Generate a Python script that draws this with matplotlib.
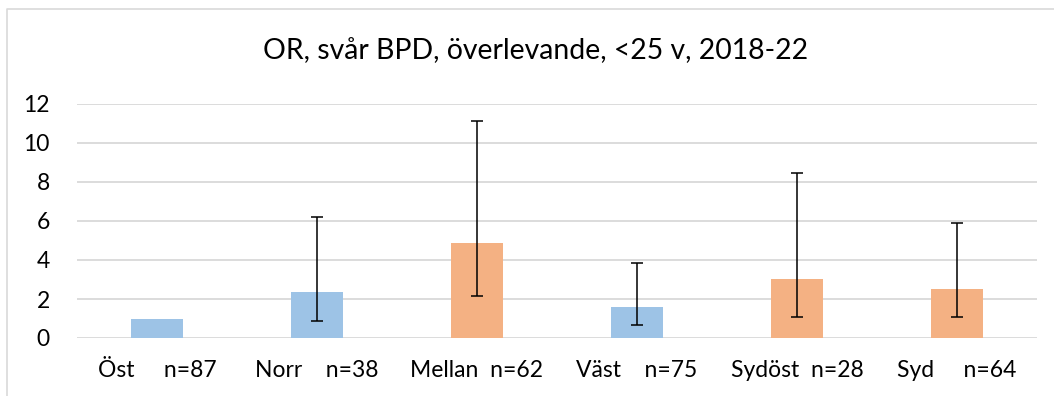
import matplotlib.pyplot as plt
from matplotlib.lines import Line2D

# Data
regions = ['Öst', 'Norr', 'Mellan', 'Väst', 'Sydöst', 'Syd']
n_values = [87, 38, 62, 75, 28, 64]
odds_ratio = [1.0, 2.36, 4.88, 1.59, 3.03, 2.52]
ci_low = [None, 0.89, 2.14, 0.67, 1.06, 1.06]
ci_high = [None, 6.22, 11.15, 3.84, 8.48, 5.89]
gaps = [5, 4, 2, 4, 2, 5]  # spaces between region name and n in label

blue = '#9dc3e6'
orange = '#f4b183'
bar_colors = [blue, blue, orange, blue, orange, orange]

plt.rcParams['font.family'] = ['Lato', 'DejaVu Sans']

fig = plt.figure(figsize=(10.54, 3.96), dpi=100)
ax = fig.add_axes([77 / 1054, 1 - 338 / 396, 960 / 1054, 234 / 396])

x = list(range(len(regions)))
ax.bar(x, odds_ratio, width=0.32, color=bar_colors, zorder=2)

# Error bars (Öst is the reference, no interval)
for i in x:
    if ci_low[i] is None:
        continue
    ax.errorbar(i, odds_ratio[i],
                yerr=[[odds_ratio[i] - ci_low[i]], [ci_high[i] - odds_ratio[i]]],
                fmt='none', ecolor='black', elinewidth=1.1, capsize=4.5,
                capthick=1.1, zorder=3)

ax.set_xlim(-0.5, 5.5)
ax.set_ylim(0, 12)
ax.set_yticks(range(0, 13, 2))
ax.grid(axis='y', color='#d9d9d9', linewidth=1.3, zorder=0)
ax.set_axisbelow(True)
for s in ax.spines.values():
    s.set_visible(False)

labels = [r + ' ' * g + 'n=' + str(n) for r, n, g in zip(regions, n_values, gaps)]
ax.set_xticks(x)
ax.set_xticklabels(labels)
ax.tick_params(axis='both', length=0, labelsize=16.5, colors='black')
ax.tick_params(axis='y', pad=19.5)
ax.tick_params(axis='x', pad=16)

fig.text(536 / 1054, 1 - 51 / 396, 'OR, svår BPD, överlevande, <25 v, 2018-22',
         ha='center', va='center', fontsize=20.4)

# chart area border (only left and top visible in the crop)
fig.add_artist(Line2D([7 / 1054, 7 / 1054, 1.0], [0, 1 - 9 / 396, 1 - 9 / 396],
                      transform=fig.transFigure, color='#d9d9d9', linewidth=1.2))

fig.savefig('out.png', dpi=100)
